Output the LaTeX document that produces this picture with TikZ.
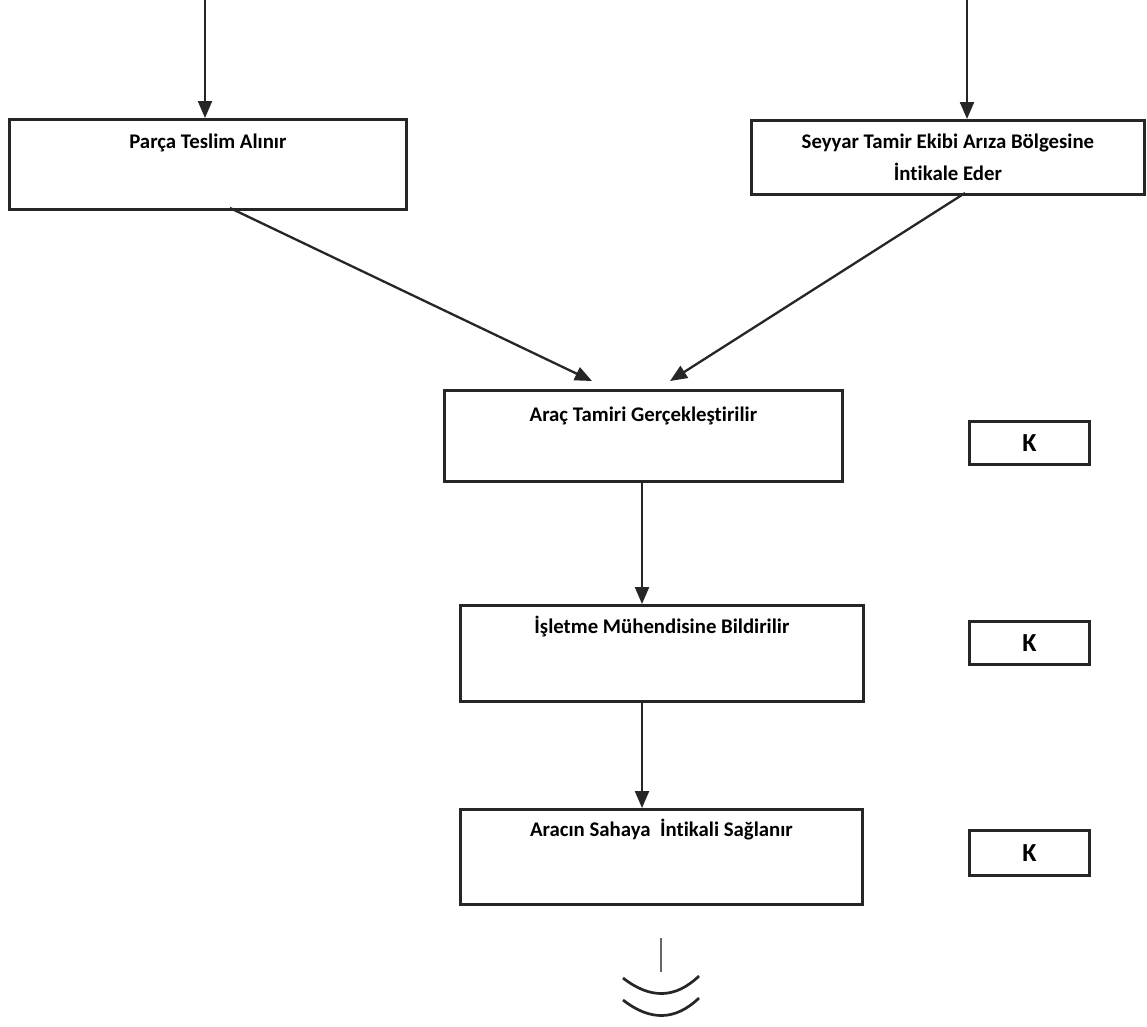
\documentclass[tikz,border=0pt]{standalone}
\usepackage{fontspec}
\setmainfont[Ligatures=NoCommon]{Carlito}
\usetikzlibrary{arrows.meta}
\newcommand{\bxt}[4]{\parbox[c][#2pt][t]{#1pt}{\centering\vspace*{#3pt}#4\par}}
\begin{document}
\begin{tikzpicture}[x=1pt,y=-1pt,
  box/.style={draw=black!85, line width=2.8pt, inner sep=0pt, anchor=north west, font=\bfseries\fontsize{20.8}{32}\selectfont},
  kbox/.style={draw=black!85, line width=2.8pt, inner sep=0pt, anchor=north west, minimum width=120pt, font=\bfseries\fontsize{26}{28}\selectfont},
  arr/.style={line width=2.3pt, black!85, -{Triangle[length=17pt,width=14pt]}},
  lin/.style={line width=2pt, black!85}]
\useasboundingbox (0,0) rectangle (1147,1026);
\fill[white] (0,0) rectangle (1147,1026);
\node[box] (b1) at (8,118) {\bxt{397}{90}{14}{Parça Teslim Alınır}};
\node[box] (b2) at (750,119) {\bxt{393}{74}{13}{Seyyar Tamir Ekibi Arıza Bölgesine\\İntikale Eder}};
\node[box] (b3) at (443,389) {\bxt{398}{91}{16}{Araç Tamiri Gerçekleştirilir}};
\node[box] (b4) at (459,604) {\bxt{403}{96}{11}{İşletme Mühendisine Bildirilir}};
\node[box] (b5) at (459,808) {\bxt{402}{95}{10}{Aracın Sahaya\ \ İntikali Sağlanır}};
\node[kbox, minimum height=43pt] (k1) at (968,420) {K};
\node[kbox, minimum height=43pt] (k2) at (968,620) {K};
\node[kbox, minimum height=45pt] (k3) at (968,829) {K};
\coordinate (t1) at (205,0);
\coordinate (t2) at (967,0);
\draw[arr] (t1) -- (t1 |- b1.north);
\draw[arr] (t2) -- (t2 |- b2.north);
\coordinate (s1) at (230,208);
\coordinate (e1) at (592,381);
\coordinate (s2) at (965,193);
\coordinate (e2) at (670,381);
\draw[arr] (s1) -- (e1);
\draw[arr] (s2) -- (e2);
\coordinate (v) at (642,0);
\draw[arr] (v |- b3.south) -- (v |- b4.north);
\draw[arr] (v |- b4.south) -- (v |- b5.north);
\coordinate (m1) at (661,938);
\coordinate (m2) at (661,972);
\draw[lin, black!60] (m1) -- (m2);
\draw[lin, line width=2.7pt] (623,978) .. controls (650,999) and (675,999) .. (699,976);
\draw[lin, line width=2.7pt] (623,1000) .. controls (650,1021) and (675,1021) .. (699,998);
\end{tikzpicture}
\end{document}
